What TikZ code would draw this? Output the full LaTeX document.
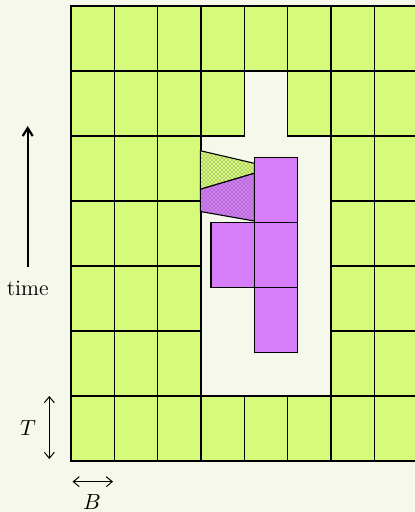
\documentclass[tikz,border=0pt]{standalone}
\usetikzlibrary{arrows.meta,patterns}
\definecolor{bgc}{RGB}{245,248,234}
\definecolor{cellg}{RGB}{214,250,122}
\definecolor{cellp}{RGB}{214,126,250}
\pgfdeclarepatternformonly{finedots}{\pgfqpoint{-0.5pt}{-0.5pt}}{\pgfqpoint{2.5pt}{2.5pt}}{\pgfqpoint{2pt}{2pt}}{%
  \pgfpathcircle{\pgfqpoint{0pt}{0pt}}{0.32pt}%
  \pgfpathcircle{\pgfqpoint{1pt}{1pt}}{0.32pt}%
  \pgfusepath{fill}}
\begin{document}
\begin{tikzpicture}[x=0.5pt,y=-0.5pt,
  gcell/.style={fill=cellg,draw=black,line width=0.55pt},
  pcell/.style={fill=cellp,draw=black,line width=0.55pt},
  lbl/.style={font=\fontsize{11}{13}\selectfont,inner sep=0pt},
  dimarrow/.style={{Straight Barb[length=3pt,width=5pt]}-{Straight Barb[length=3pt,width=5pt]},line width=0.5pt},
  timearrow/.style={-{Straight Barb[length=4pt,width=5pt]},line width=1.1pt}]
\useasboundingbox (0,0) rectangle (415,512);
\clip (0,0) rectangle (415,512);
\fill[bgc] (0,0) rectangle (415,512);
\def\cw{43.33}
\def\rh{65}
% green grid cells
\foreach \c/\r in {0/0,1/0,2/0,3/0,4/0,5/0,6/0,7/0,
                   0/1,1/1,2/1,3/1,5/1,6/1,7/1,
                   0/2,1/2,2/2,6/2,7/2,
                   0/3,1/3,2/3,6/3,7/3,
                   0/4,1/4,2/4,6/4,7/4,
                   0/5,1/5,2/5,6/5,7/5,
                   0/6,1/6,2/6,3/6,4/6,5/6,6/6,7/6}
  \draw[gcell] ({71+\c*\cw},{6+\r*\rh}) rectangle ({71+(\c+1)*\cw},{6+(\r+1)*\rh});
% hatched trapezoids
\coordinate (ga) at (200.3,150.7);
\coordinate (gb) at (254.3,163.3);
\coordinate (gc) at (254.3,173.3);
\coordinate (gd) at (200.3,189.3);
\coordinate (pc) at (254.3,221);
\coordinate (pd) at (200.3,211.5);
\fill[cellg] (ga) -- (gb) -- (gc) -- (gd) -- cycle;
\fill[pattern=finedots,pattern color=black!75] (ga) -- (gb) -- (gc) -- (gd) -- cycle;
\draw[line width=0.55pt] (ga) -- (gb) -- (gc) -- (gd) -- cycle;
\fill[cellp] (gd) -- (gc) -- (pc) -- (pd) -- cycle;
\fill[pattern=finedots,pattern color=black!75] (gd) -- (gc) -- (pc) -- (pd) -- cycle;
\draw[line width=0.55pt] (gd) -- (gc) -- (pc) -- (pd) -- cycle;
% purple cells
\draw[pcell] (254.3,157.5) rectangle (297.6,222.5);
\draw[pcell] (254.3,222.5) rectangle (297.6,287.5);
\draw[pcell] (254.3,287.5) rectangle (297.6,352.5);
\draw[pcell] (211,222.5) rectangle (254.3,287.5);
% time arrow
\coordinate (tbot) at (27.7,267);
\coordinate (ttop) at (27.7,126);
\draw[timearrow] (tbot) -- (ttop);
\node[lbl] (time) at (27.7,288) {time};
% T dimension
\coordinate (Ta) at (49.3,396);
\coordinate (Tb) at (49.3,459);
\draw[dimarrow] (Ta) -- (Tb);
\node[lbl] (T) at (28,428) {$T$};
% B dimension
\coordinate (Ba) at (72.5,481.7);
\coordinate (Bb) at (113,481.7);
\draw[dimarrow] (Ba) -- (Bb);
\node[lbl] (B) at (92,502) {$B$};
\end{tikzpicture}
\end{document}
